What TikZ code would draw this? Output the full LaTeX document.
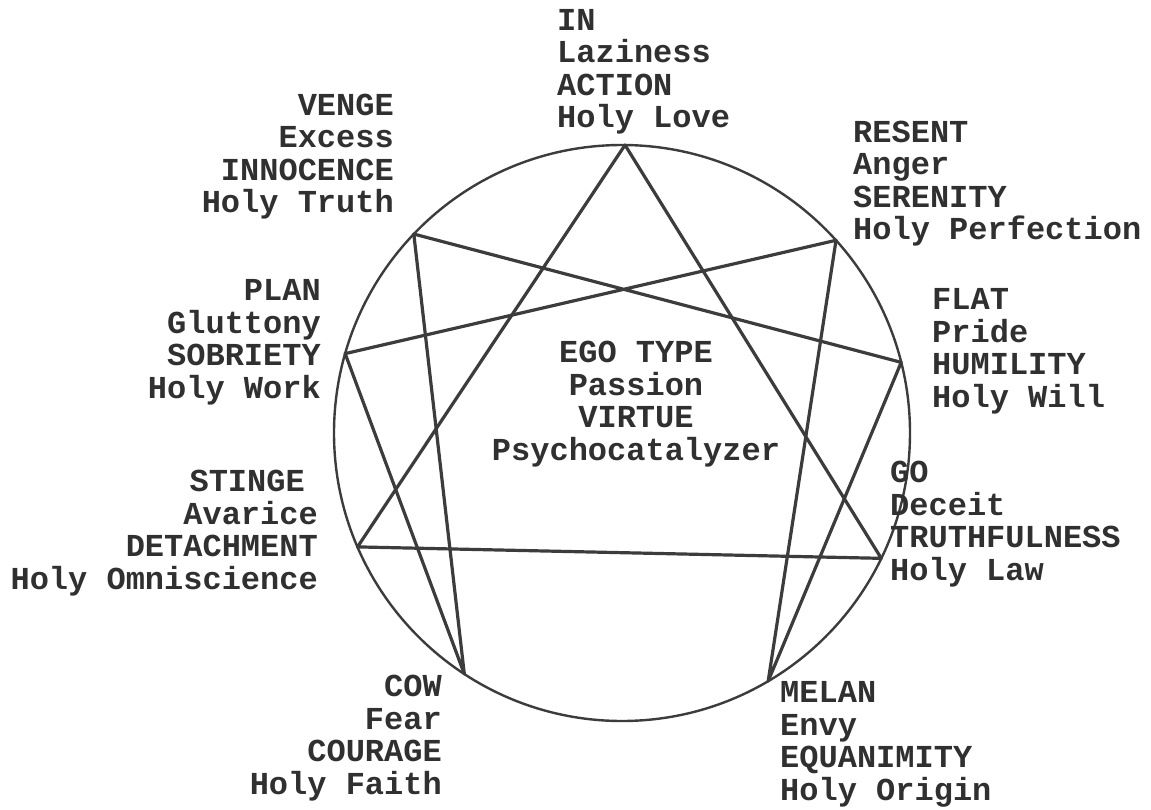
\documentclass[tikz,border=0pt]{standalone}
\usepackage{fontspec}
\newfontfamily\tw{Liberation Mono}
\definecolor{ink}{HTML}{303030}
\definecolor{lineink}{HTML}{3C3C3C}
\tikzset{
  lbl/.style={font=\tw\bfseries\fontsize{32}{32.5}\selectfont, text=ink, inner sep=0pt},
  lblL/.style={lbl, align=left, anchor=base west},
  lblR/.style={lbl, align=right, anchor=base east},
  lblC/.style={lbl, align=center, anchor=base},
  chord/.style={draw=lineink, line width=3.2pt, line cap=round, line join=round},
  ring/.style={draw=lineink, line width=2.4pt}
}
\begin{document}
\begin{tikzpicture}[x=1pt,y=-1pt]
\useasboundingbox[fill=white] (0,0) rectangle (1151,810);
\coordinate (c) at (622,433);
\draw[ring] (c) circle[radius=288];
\path (c) ++(-89.4:288) coordinate (pIN);
\path (c) ++(-42.0:288) coordinate (pRESENT);
\path (c) ++(-14.2:288) coordinate (pFLAT);
\path (c) ++(25.8:288) coordinate (pGO);
\path (c) ++(59.5:288) coordinate (pMELAN);
\path (c) ++(123.2:288) coordinate (pCOW);
\path (c) ++(156.7:288) coordinate (pSTINGE);
\path (c) ++(196.0:288) coordinate (pPLAN);
\path (c) ++(223.7:288) coordinate (pVENGE);
% triangle
\draw[chord] (pIN) -- (pGO) -- (pSTINGE) -- cycle;
% hexad
\draw[chord] (pRESENT) -- (pMELAN) -- (pFLAT) -- (pVENGE) -- (pCOW) -- (pPLAN) -- cycle;
% labels (anchor = baseline of last line)
\node[lblL] (tIN) at (557,128) {IN\\Laziness\\ACTION\\Holy Love};
\node[lblR] (tVENGE) at (394,213) {VENGE\\Excess\\INNOCENCE\\Holy Truth};
\node[lblL] (tRESENT) at (853,240) {RESENT\\Anger\\SERENITY\\Holy Perfection};
\node[lblR] (tPLAN) at (321,398) {PLAN\\Gluttony\\SOBRIETY\\Holy Work};
\node[lblL] (tFLAT) at (932,407) {FLAT\\Pride\\HUMILITY\\Holy Will};
\node[lblC] (tEGO) at (636,460) {EGO TYPE\\Passion\\VIRTUE\\Psychocatalyzer};
\node[lblR] (tSTINGE) at (318,589) {STINGE\hspace*{13pt}\\Avarice\hspace*{14pt}\\DETACHMENT\\Holy Omniscience};
\node[lblL] (tGO) at (890,580) {GO\\Deceit\\TRUTHFULNESS\\Holy Law};
\node[lblR] (tCOW) at (442,794) {COW\\Fear\\COURAGE\\Holy Faith};
\node[lblL] (tMELAN) at (780,800) {MELAN\\Envy\\EQUANIMITY\\Holy Origin};
\end{tikzpicture}
\end{document}
